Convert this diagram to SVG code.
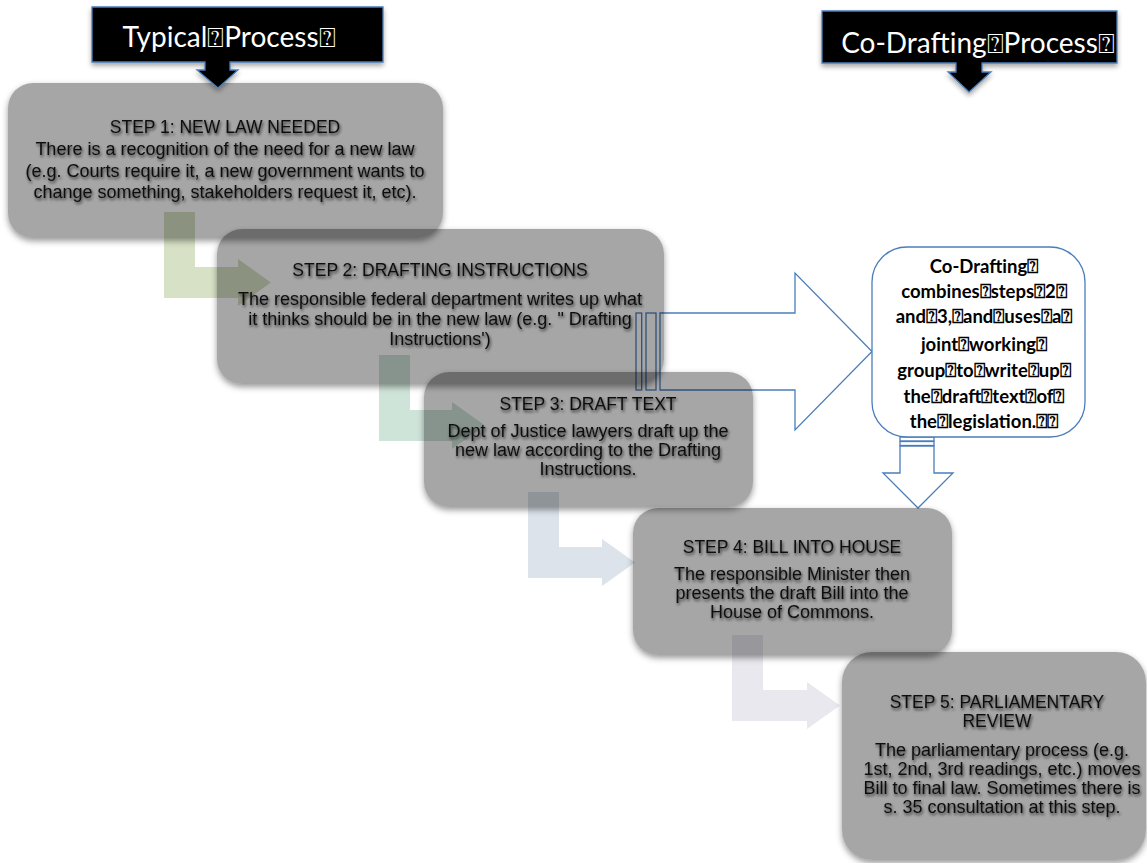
<svg xmlns="http://www.w3.org/2000/svg" width="1147" height="863" viewBox="0 0 1147 863">
<defs>
<filter id="bs" x="-10%" y="-10%" width="120%" height="130%">
<feComponentTransfer in="SourceAlpha" result="m"><feFuncA type="linear" slope="3"/></feComponentTransfer>
<feGaussianBlur in="m" stdDeviation="3" result="b"/>
<feOffset in="b" dy="3" result="o"/>
<feComposite in="o" in2="m" operator="out" result="s"/>
<feColorMatrix in="s" type="matrix" values="0 0 0 0 0  0 0 0 0 0  0 0 0 0 0  0 0 0 0.4 0" result="s2"/>
<feMerge><feMergeNode in="s2"/><feMergeNode in="SourceGraphic"/></feMerge>
</filter>
<filter id="ts" x="-5%" y="-20%" width="110%" height="150%">
<feGaussianBlur in="SourceAlpha" stdDeviation="1.4"/>
<feOffset dx="1" dy="2" result="o"/>
<feComponentTransfer in="o" result="s"><feFuncA type="linear" slope="0.7"/></feComponentTransfer>
<feMerge><feMergeNode in="s"/><feMergeNode in="SourceGraphic"/></feMerge>
</filter>
<filter id="hs" x="-5%" y="-10%" width="110%" height="140%">
<feDropShadow dx="0" dy="3" stdDeviation="2.5" flood-opacity="0.35"/>
</filter>
</defs>
<style>
.box{fill:#000;fill-opacity:.35;filter:url(#bs)}
.st{font-family:"Liberation Sans",Arial,sans-serif;font-size:17.5px;fill:#111;text-anchor:middle;filter:url(#ts)}
.bd{font-family:"Liberation Sans",Arial,sans-serif;font-size:18px;fill:#111;text-anchor:middle;filter:url(#ts)}
.hdr{fill:#000;stroke:#4a7ebb;stroke-width:1.3;filter:url(#hs)}
.ht{font-family:Lato,"Open Sans",sans-serif;font-size:28px;fill:#fff;text-anchor:middle}
.out{fill:none;stroke:#4a7ebb;stroke-width:1.3}
.outw{fill:#fff;stroke:#4a7ebb;stroke-width:1.3}
.ct{font-family:Lato,"Open Sans",sans-serif;font-weight:700;font-size:18.5px;fill:#000;text-anchor:middle}
</style>
<rect width="1147" height="863" fill="#fff"/>
<g id="connectors">
<path d="M164,212 H195 V267 H238 V259 L271,282.5 L238,306 V298 H164 Z" fill="#d7e1c5"/>
<path d="M379,355 H410 V410 H452 V402 L485,425.5 L452,449 V441 H379 Z" fill="#cfe4d9"/>
<path d="M528,492 H559 V547 H602 V539 L635,562.5 L602,586 V578 H528 Z" fill="#dce3ea"/>
<path d="M732,635 H763 V690 H807 V682 L840,705.5 L807,729 V721 H732 Z" fill="#e9e8ee"/>
<rect class="out" x="636" y="313" width="5.7" height="77"/>
<rect class="out" x="646" y="313" width="10" height="77"/>
<path class="out" d="M660,313 H795 V273 L872,351.5 L795,430 V390 H660 Z"/>
<rect class="outw" x="900" y="437" width="34" height="4"/>
<rect class="outw" x="900" y="441.5" width="34" height="4"/>
<path class="outw" d="M900,446 H934 V473 H953 L918,508 L883,473 H900 Z"/>
</g>
<g id="step1">
<rect class="box" x="8" y="83" width="435" height="155" rx="25"/>
<text class="st" x="225" y="133">STEP 1: NEW LAW NEEDED</text>
<text class="bd" x="225" y="155">There is a recognition of the need for a new law</text>
<text class="bd" x="225" y="177">(e.g. Courts require it, a new government wants to</text>
<text class="bd" x="225" y="198">change something, stakeholders request it, etc).</text>
</g>
<g id="step2">
<rect class="box" x="217" y="229" width="447" height="155" rx="25"/>
<text class="st" x="440" y="276">STEP 2: DRAFTING INSTRUCTIONS</text>
<text class="bd" x="440" y="305">The responsible federal department writes up what</text>
<text class="bd" x="440" y="325">it thinks should be in the new law (e.g. " Drafting</text>
<text class="bd" x="440" y="345">Instructions')</text>
</g>
<g id="step3">
<rect class="box" x="424" y="372" width="329" height="135" rx="25"/>
<text class="st" x="588" y="410">STEP 3: DRAFT TEXT</text>
<text class="bd" x="588" y="437">Dept of Justice lawyers draft up the</text>
<text class="bd" x="588" y="456">new law according to the Drafting</text>
<text class="bd" x="588" y="475">Instructions.</text>
</g>
<g id="step4">
<rect class="box" x="633" y="508" width="319" height="147" rx="25"/>
<text class="st" x="792" y="553">STEP 4: BILL INTO HOUSE</text>
<text class="bd" x="792" y="580">The responsible Minister then</text>
<text class="bd" x="792" y="599">presents the draft Bill into the</text>
<text class="bd" x="792" y="618">House of Commons.</text>
</g>
<g id="step5">
<rect class="box" x="842" y="652" width="304" height="208" rx="30"/>
<text class="st" x="997" y="708">STEP 5: PARLIAMENTARY</text>
<text class="st" x="997" y="727">REVIEW</text>
<text class="bd" x="1002" y="756">The parliamentary process (e.g.</text>
<text class="bd" x="1002" y="775">1st, 2nd, 3rd readings, etc.) moves</text>
<text class="bd" x="1002" y="794">Bill to final law. Sometimes there is</text>
<text class="bd" x="1002" y="813">s. 35 consultation at this step.</text>
</g>
<g id="codrafting-note">
<rect class="outw" x="872" y="247" width="213" height="190" rx="35"/>
<text class="ct" x="984" y="273">Co-Drafting⍰</text>
<text class="ct" x="984" y="298">combines⍰steps⍰2⍰</text>
<text class="ct" x="984" y="323">and⍰3,⍰and⍰uses⍰a⍰</text>
<text class="ct" x="984" y="351">joint⍰working⍰</text>
<text class="ct" x="984" y="377">group⍰to⍰write⍰up⍰</text>
<text class="ct" x="984" y="403">the⍰draft⍰text⍰of⍰</text>
<text class="ct" x="984" y="428">the⍰legislation.⍰⍰</text>
</g>
<g id="header-typical">
<path class="hdr" d="M92,7 H383 V62 H230 V70 H238 L218,88 L197,70 H205 V62 H92 Z"/>
<text class="ht" x="229" y="47">Typical⍰Process⍰</text>
</g>
<g id="header-codrafting">
<path class="hdr" d="M822,11 H1117 V63 H982 V72 H991 L969,92 L948,72 H956 V63 H822 Z"/>
<text class="ht" x="978" y="53">Co-Drafting⍰Process⍰</text>
</g>
</svg>
